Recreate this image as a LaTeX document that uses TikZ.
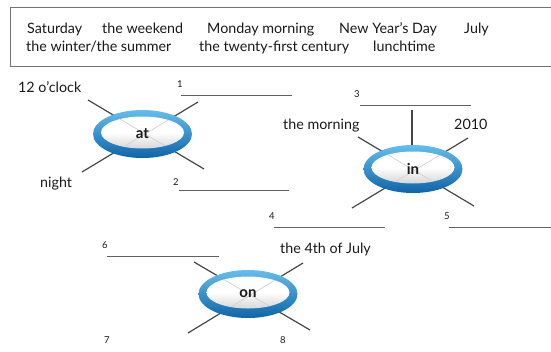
\documentclass[tikz,border=0pt]{standalone}
\usepackage{fontspec}
\setmainfont{Lato}
\usetikzlibrary{shapes.geometric}
\definecolor{ringlight}{RGB}{100,190,238}
\definecolor{ringdark}{RGB}{14,100,168}
\definecolor{ink}{RGB}{25,25,25}
\tikzset{
  word/.style={font=\fontsize{14.3}{17}\selectfont, text=ink, inner sep=0pt, anchor=base west},
  num/.style={font=\fontsize{9.5}{10}\selectfont, text=ink, inner sep=0pt, anchor=base west},
  blank/.style={draw=black!62, line width=0.9pt},
  spoke/.style={draw=black!72, line width=1.2pt},
  faint/.style={draw=black!18, line width=0.7pt},
  ringout/.style={ellipse, inner sep=0pt, minimum width=99pt, minimum height=48pt,
    top color=ringlight, bottom color=ringdark},
  ringin/.style={ellipse, inner sep=0pt, minimum width=83pt, minimum height=32pt,
    top color=white, bottom color=black!16, middle color=white},
  prep/.style={font=\bfseries\fontsize{15}{17}\selectfont, text=ink, inner sep=0pt},
}
\begin{document}
\begin{tikzpicture}[x=1pt, y=-1pt]
  \useasboundingbox (0,0) rectangle (551,351);

  % word box
  \draw[black!55, line width=1pt] (10,7) rectangle (565,66);
  \node[word] (w1) at (27,33) {Saturday};
  \node[word] (w2) at (102,33) {the weekend};
  \node[word] (w3) at (207,33) {Monday morning};
  \node[word] (w4) at (339,33) {New Year’s Day};
  \node[word] (w5) at (464,33) {July};
  \node[word] (w6) at (26,51) {the winter/the summer};
  \node[word] (w7) at (199,51) {the twenty-first century};
  \node[word] (w8) at (373,51) {lunchtime};

  % ---- "at" ----
  \coordinate (a1) at (88,100);  \coordinate (a2) at (204,169);
  \coordinate (a3) at (198,102); \coordinate (a4) at (82,172);
  \draw[spoke] (a1) -- (a2);
  \draw[spoke] (a3) -- (a4);
  \node[ringout] (atR) at (142.5,134) {};
  \node[ringin] (atI) at (142.5,132.5) {};
  \begin{scope}
    \clip (142.5,132.5) ellipse [x radius=41.5, y radius=16];
    \draw[faint] (a1) -- (a2);
    \draw[faint] (a3) -- (a4);
  \end{scope}
  \node[prep] (at) at (142.5,134) {at};
  \node[word] (l12) at (18,92) {12 o’clock};
  \node[word] (lnight) at (40,187) {night};
  \node[num] (n1) at (177,87) {1};
  \coordinate (b1s) at (181,95); \coordinate (b1e) at (292,95);
  \draw[blank] (b1s) -- (b1e);
  \node[num] (n2) at (173,185) {2};
  \coordinate (b2s) at (179,190); \coordinate (b2e) at (289,190);
  \draw[blank] (b2s) -- (b2e);

  % ---- "in" ----
  \coordinate (i1) at (358,137); \coordinate (i2) at (474,206);
  \coordinate (i3) at (468,138); \coordinate (i4) at (352,208);
  \coordinate (i5) at (412,110); \coordinate (i6) at (412,150);
  \draw[spoke] (i1) -- (i2);
  \draw[spoke] (i3) -- (i4);
  \draw[spoke] (i5) -- (i6);
  \node[ringout] (inR) at (413,169) {};
  \node[ringin] (inI) at (413,167.5) {};
  \begin{scope}
    \clip (413,167.5) ellipse [x radius=41.5, y radius=16];
    \draw[faint] (i1) -- (i2);
    \draw[faint] (i3) -- (i4);
  \end{scope}
  \node[prep] (in) at (413,169) {in};
  \node[word] (lmorning) at (283,129) {the morning};
  \node[word] (l2010) at (454,129) {2010};
  \node[num] (n3) at (354,97) {3};
  \coordinate (b3s) at (360,105); \coordinate (b3e) at (471,105);
  \draw[blank] (b3s) -- (b3e);
  \node[num] (n4) at (269,219) {4};
  \coordinate (b4s) at (274,227); \coordinate (b4e) at (385,227);
  \draw[blank] (b4s) -- (b4e);
  \node[num] (n5) at (444,219) {5};
  \coordinate (b5s) at (449,227); \coordinate (b5e) at (551,227);
  \draw[blank] (b5s) -- (b5e);

  % ---- "on" ----
  \coordinate (o1) at (194,262); \coordinate (o2) at (310,330);
  \coordinate (o3) at (303,263); \coordinate (o4) at (188,333);
  \draw[spoke] (o1) -- (o2);
  \draw[spoke] (o3) -- (o4);
  \node[ringout] (onR) at (248,294) {};
  \node[ringin] (onI) at (248,292.5) {};
  \begin{scope}
    \clip (248,292.5) ellipse [x radius=41.5, y radius=16];
    \draw[faint] (o1) -- (o2);
    \draw[faint] (o3) -- (o4);
  \end{scope}
  \node[prep] (on) at (248,294) {on};
  \node[word] (ljuly) at (280,253) {the 4th of July};
  \node[num] (n6) at (102,248) {6};
  \coordinate (b6s) at (107,256); \coordinate (b6e) at (219,256);
  \draw[blank] (b6s) -- (b6e);
  \node[num] (n7) at (104,343) {7};
  \node[num] (n8) at (280,343) {8};
\end{tikzpicture}
\end{document}
